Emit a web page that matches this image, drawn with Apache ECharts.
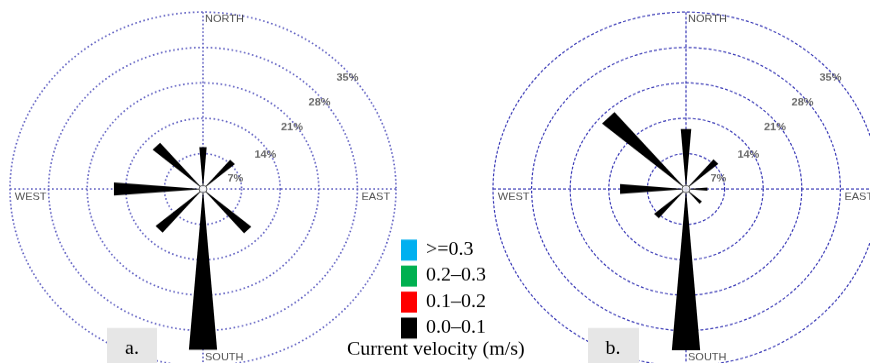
<!DOCTYPE html>
<html>
<head>
<meta charset="utf-8">
<script src="https://cdn.jsdelivr.net/npm/echarts@6/dist/echarts.min.js"></script>
<style>
  html, body { margin: 0; padding: 0; background: #fff; overflow: hidden; }
  #wrap { width: 870px; height: 363px; overflow: hidden; }
  /* the source figure is squeezed vertically a little, so the chart is too */
  #chart { width: 870px; height: 396px; transform: scaleY(0.9167); transform-origin: 0 0; }
</style>
</head>
<body>
<div id="wrap"><div id="chart"></div></div>
<script>
// compass directions of the petals (degrees clockwise from north)
var directions = ['N', 'NE', 'E', 'SE', 'S', 'SW', 'W', 'NW'];
var bearings = [0, 45, 90, 135, 180, 225, 270, 315];

// velocity classes, listed as in the legend (top to bottom)
var classNames = ['>=0.3', '0.2\u20130.3', '0.1\u20130.2', '0.0\u20130.1'];
var classColors = ['#00b0f0', '#00b050', '#ff0000', '#000000'];

// frequency (%) per direction and class, panel a
var roseA_00_01 = [8.3, 7.6, 0, 11.5, 31.9, 11.3, 16.2, 12.0];
var roseA_01_02 = [0, 0, 0, 0, 0, 0, 0, 0];
var roseA_02_03 = [0, 0, 0, 0, 0, 0, 0, 0];
var roseA_03_up = [0, 0, 0, 0, 0, 0, 0, 0];

// frequency (%) per direction and class, panel b
var roseB_00_01 = [11.9, 7.7, 3.9, 3.8, 32.0, 7.6, 12.0, 20.0];
var roseB_01_02 = [0, 0, 0, 0, 0, 0, 0, 0];
var roseB_02_03 = [0, 0, 0, 0, 0, 0, 0, 0];
var roseB_03_up = [0, 0, 0, 0, 0, 0, 0, 0];

// ring labels
var ringValues = [7, 14, 21, 28, 35];
var ringLabels = ['7%', '14%', '21%', '28%', '35%'];
var compassNames = ['EAST', 'NORTH', 'SOUTH', 'WEST'];

var SY = 0.9167;
var HALF = 4.6; // half the angular width of a petal, degrees

var chart = echarts.init(document.getElementById('chart'));

function petal(params, api) {
  var base = api.value(2);
  var r = api.value(0);
  var ang = api.value(1);
  if (!r) return null;
  var pts = [
    api.coord([base, ang - HALF]),
    api.coord([base + r, ang - HALF]),
    api.coord([base + r, ang + HALF]),
    api.coord([base, ang + HALF])
  ];
  return { type: 'polygon', shape: { points: pts }, style: { fill: api.visual('color') } };
}

function roseSeries(polarIndex, stack) {
  // stack = [lowest class, ..., highest class]
  var out = [];
  var base = bearings.map(function () { return 0; });
  for (var k = 0; k < stack.length; k++) {
    var vals = stack[k];
    var ci = classNames.length - 1 - k;
    out.push({
      type: 'custom',
      name: classNames[ci],
      coordinateSystem: 'polar',
      polarIndex: polarIndex,
      itemStyle: { color: classColors[ci] },
      renderItem: petal,
      z: 3,
      data: vals.map(function (v, i) { return [v, bearings[i], base[i]]; })
    });
    base = base.map(function (b, i) { return b + vals[i]; });
  }
  return out;
}

function labelSeries(polarIndex) {
  var pctBearing = [71, 59, 53, 51, 50];
  var compassPos = [
    { value: [34.3, 90], position: 'left', offset: [0, 9] },
    { value: [33.5, 0], position: 'right', offset: [0, 0] },
    { value: [33.4, 180], position: 'right', offset: [0, 0] },
    { value: [34.5, 270], position: 'right', offset: [0, 9] }
  ];
  return [{
    type: 'scatter',
    coordinateSystem: 'polar',
    polarIndex: polarIndex,
    symbolSize: 0,
    silent: true,
    z: 4,
    label: {
      show: true, position: 'inside',
      fontFamily: 'Liberation Sans', fontSize: 11, fontWeight: 'bold', color: '#444',
      formatter: function (p) { return ringLabels[p.dataIndex]; }
    },
    data: ringValues.map(function (v, i) { return [v - 0.8, pctBearing[i]]; })
  }, {
    type: 'scatter',
    coordinateSystem: 'polar',
    polarIndex: polarIndex,
    symbolSize: 0,
    silent: true,
    z: 4,
    data: compassPos.map(function (c, i) {
      return {
        value: c.value,
        label: {
          show: true, position: c.position, offset: c.offset, distance: 2,
          fontFamily: 'Liberation Sans', fontSize: 11, color: '#222',
          formatter: compassNames[i]
        }
      };
    })
  }, {
    type: 'scatter',
    coordinateSystem: 'polar',
    polarIndex: polarIndex,
    symbol: 'circle',
    symbolSize: 8,
    silent: true,
    z: 5,
    itemStyle: { color: '#fff', borderColor: '#333', borderWidth: 1 },
    data: [[0, 0]]
  }];
}

function gridStyle(color, dash, width) {
  return { show: true, lineStyle: { color: color, type: dash, width: width } };
}

var option = {
  animation: false,
  backgroundColor: '#fff',
  polar: [
    { center: [203, 189 / SY], radius: 193 },
    { center: [686, 189 / SY], radius: 193 }
  ],
  angleAxis: [
    { polarIndex: 0, type: 'value', min: 0, max: 360, interval: 90, startAngle: 90, clockwise: true,
      axisLine: { show: false }, axisTick: { show: false }, axisLabel: { show: false },
      splitLine: gridStyle('#6464c4', [1.7, 2.5], 1.7) },
    { polarIndex: 1, type: 'value', min: 0, max: 360, interval: 90, startAngle: 90, clockwise: true,
      axisLine: { show: false }, axisTick: { show: false }, axisLabel: { show: false },
      splitLine: gridStyle('#3535b5', [3, 2], 1.2) }
  ],
  radiusAxis: [
    { polarIndex: 0, min: 0, max: 35, interval: 7,
      axisLine: { show: false }, axisTick: { show: false }, axisLabel: { show: false },
      splitLine: gridStyle('#6464c4', [1.7, 2.5], 1.7) },
    { polarIndex: 1, min: 0, max: 35, interval: 7,
      axisLine: { show: false }, axisTick: { show: false }, axisLabel: { show: false },
      splitLine: gridStyle('#3535b5', [3, 2], 1.2) }
  ],
  legend: {
    data: classNames,
    orient: 'vertical',
    left: 396,
    top: 235 / SY,
    icon: 'rect',
    itemWidth: 16,
    itemHeight: 21 / SY,
    itemGap: 5 / SY,
    selectedMode: false,
    textStyle: { fontFamily: 'Liberation Serif', fontSize: 20, color: '#000', padding: [0, 0, 0, 4] }
  },
  graphic: [
    { type: 'rect', z: 10, shape: { x: 107, y: 328 / SY, width: 50, height: 40 }, style: { fill: '#e6e6e6' } },
    { type: 'text', z: 11, x: 132, y: 349 / SY,
      style: { text: 'a.', fontFamily: 'Liberation Serif', fontSize: 20, fill: '#000', align: 'center', verticalAlign: 'middle' } },
    { type: 'rect', z: 10, shape: { x: 588, y: 328 / SY, width: 51, height: 40 }, style: { fill: '#e6e6e6' } },
    { type: 'text', z: 11, x: 613, y: 349 / SY,
      style: { text: 'b.', fontFamily: 'Liberation Serif', fontSize: 20, fill: '#000', align: 'center', verticalAlign: 'middle' } },
    { type: 'text', z: 11, x: 347, y: 350 / SY,
      style: { text: 'Current velocity (m/s)', fontFamily: 'Liberation Serif', fontSize: 20, fill: '#000', verticalAlign: 'middle' } }
  ],
  series: [].concat(
    roseSeries(0, [roseA_00_01, roseA_01_02, roseA_02_03, roseA_03_up]),
    roseSeries(1, [roseB_00_01, roseB_01_02, roseB_02_03, roseB_03_up]),
    labelSeries(0),
    labelSeries(1)
  )
};

chart.setOption(option);
</script>
</body>
</html>
